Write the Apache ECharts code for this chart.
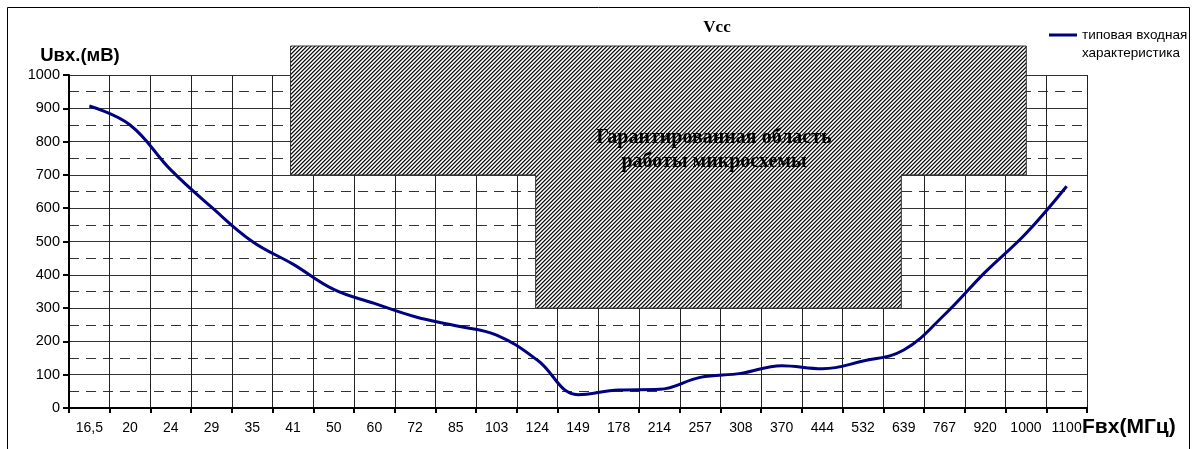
<!DOCTYPE html>
<html>
<head>
<meta charset="utf-8">
<script src="https://cdn.jsdelivr.net/npm/echarts@6/dist/echarts.min.js"></script>
<style>
html,body{margin:0;padding:0;background:#fff;}
#chart{width:1197px;height:449px;}
</style>
</head>
<body>
<div id="chart"></div>
<script>
// Frequency categories (MHz)
const categories = ['16,5','20','24','29','35','41','50','60','72','85','103','124','149','178','214','257','308','370','444','532','639','767','920','1000','1100'];
// Typical input characteristic (mV)
const inputLevel = [907, 850, 715, 603, 500, 432, 356, 314, 274, 247, 219, 144, 40, 54, 56, 92, 104, 127, 118, 141, 174, 280, 408, 524, 666];
// Guaranteed operating region outline (x in category units from the axis start, y in mV)
const regionX = [5.44, 23.51, 23.51, 20.44, 20.44, 11.46, 11.46, 5.44];
const regionY = [1087, 1087, 700, 700, 300, 300, 700, 700];
const yTicks = {min: 0, max: 1000, interval: 100};
const seriesName = 'типовая входная\nхарактеристика';

function makeHatch() {
  const c = document.createElement('canvas');
  c.width = 4; c.height = 4;
  const ctx = c.getContext('2d');
  const img = ctx.createImageData(4, 4);
  for (let y = 0; y < 4; y++) {
    for (let x = 0; x < 4; x++) {
      const k = (x + y) % 4;
      let v = 255;
      if (k === 0) v = 15; else if (k === 1) v = 120; else if (k === 3) v = 200;
      const i = (y * 4 + x) * 4;
      img.data[i] = v; img.data[i+1] = v; img.data[i+2] = v; img.data[i+3] = 255;
    }
  }
  ctx.putImageData(img, 0, 0);
  return c;
}
const hatch = makeHatch();

const regionData = regionX.map((x, i) => [x, regionY[i]]);

const chart = echarts.init(document.getElementById('chart'), null, {renderer: 'canvas'});
const sans = 'Liberation Sans, Arial, sans-serif';
const serif = 'Liberation Serif, Times New Roman, serif';

chart.setOption({
  animation: false,
  backgroundColor: '#fff',
  grid: {left: 69, right: 110, top: 75, bottom: 41, containLabel: false},
  legend: {
    show: true,
    data: [seriesName],
    left: 1049,
    top: 8,
    padding: 0,
    itemWidth: 28,
    itemHeight: 3,
    icon: 'rect',
    formatter: function (name) { return '\n' + name; },
    textStyle: {fontFamily: sans, fontSize: 13.5, color: '#000', lineHeight: 18}
  },
  xAxis: [{
    type: 'category',
    data: categories,
    boundaryGap: true,
    name: 'Fвх(МГц)',
    nameLocation: 'end',
    nameGap: -5,
    nameMoveOverlap: false,
    nameTextStyle: {fontFamily: sans, fontSize: 21, fontWeight: 'bold', color: '#000', align: 'left', verticalAlign: 'top', padding: [9, 0, 0, 0]},
    axisLine: {show: true, lineStyle: {color: '#000', width: 2}},
    axisTick: {show: true, length: 5, interval: 0, lineStyle: {color: '#000', width: 2}},
    axisLabel: {interval: 0, fontFamily: sans, fontSize: 14, color: '#000', margin: 13},
    splitLine: {show: true, interval: 0, lineStyle: {color: '#222', width: 1}}
  }, {
    type: 'value',
    min: 0,
    max: categories.length,
    show: false
  }],
  yAxis: {
    type: 'value',
    min: yTicks.min,
    max: yTicks.max,
    interval: yTicks.interval,
    name: 'Uвх.(мВ)',
    nameLocation: 'end',
    nameGap: 10,
    nameTextStyle: {fontFamily: sans, fontSize: 18.5, fontWeight: 'bold', color: '#000', padding: [0, 0, 0, 22]},
    axisLine: {show: true, lineStyle: {color: '#000', width: 2}},
    axisTick: {show: true, length: 6, lineStyle: {color: '#000', width: 2}},
    axisLabel: {fontFamily: sans, fontSize: 14.5, color: '#000', margin: 9, formatter: function (v) { return String(v); }},
    splitLine: {show: true, lineStyle: {color: '#333', width: 1}},
    minorTick: {show: false, splitNumber: 2},
    minorSplitLine: {show: true, lineStyle: {color: '#333', width: 1, type: [10, 7]}}
  },
  series: [{
    type: 'custom',
    name: 'region',
    xAxisIndex: 1,
    yAxisIndex: 0,
    clip: false,
    silent: true,
    z: 3,
    data: [0],
    renderItem: function (params, api) {
      const pts = regionData.map(p => api.coord(p));
      return {
        type: 'polygon',
        shape: {points: pts},
        style: {fill: {image: hatch, repeat: 'repeat'}, stroke: '#333', lineWidth: 1}
      };
    }
  }, {
    type: 'line',
    name: seriesName,
    data: inputLevel,
    smooth: 0.4,
    showSymbol: false,
    symbol: 'none',
    z: 4,
    lineStyle: {color: '#000080', width: 3},
    itemStyle: {color: '#000080'}
  }],
  graphic: [{
    type: 'rect',
    shape: {x: 7.5, y: 7.5, width: 1182, height: 460},
    style: {fill: null, stroke: '#000', lineWidth: 1},
    silent: true, z: 0
  }, {
    type: 'text',
    x: 717, y: 28,
    style: {text: 'Vcc', font: 'bold 17px ' + serif, fill: '#000', align: 'center', verticalAlign: 'middle'},
    z: 10
  }, {
    type: 'text',
    x: 714, y: 150,
    style: {text: 'Гарантированная область\nработы микросхемы', font: 'bold 20px ' + serif, lineHeight: 24, fill: '#000', align: 'center', verticalAlign: 'middle'},
    z: 10
  }]
});
</script>
</body>
</html>
